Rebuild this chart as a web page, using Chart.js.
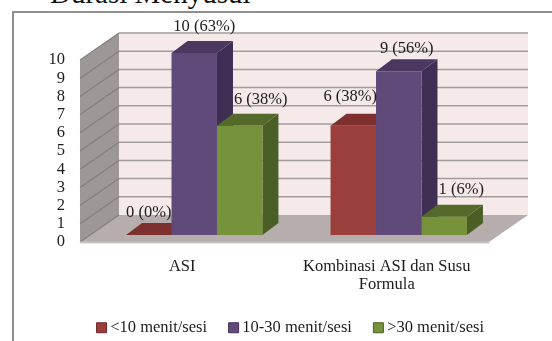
<!DOCTYPE html>
<html>
<head>
<meta charset="utf-8">
<script src="https://cdn.jsdelivr.net/npm/chart.js@4"></script>
<style>
  html, body { margin: 0; padding: 0; width: 552px; height: 341px; overflow: hidden; background: #fff; }
  #frame { position: absolute; left: 12px; top: 11px; width: 800px; height: 600px;
           border-left: 2px solid #8f8f8f; border-top: 2px solid #8f8f8f; }
  #heading { position: absolute; left: 50px; top: -23px; font: 29px "Liberation Serif", serif;
             color: #111; white-space: nowrap; }
  #wrap { position: absolute; left: 0; top: 0; width: 552px; height: 341px; }
</style>
</head>
<body>
<div id="frame"></div>
<div id="heading">Durasi Menyusui</div>
<div id="wrap"><canvas id="chart" width="552" height="341"></canvas></div>
<script>
const categories = ["ASI", ["Kombinasi ASI dan Susu", "Formula"]];
const seriesNames = ["<10 menit/sesi", "10-30 menit/sesi", ">30 menit/sesi"];
const under10 = [0, 6];
const from10to30 = [10, 9];
const over30 = [6, 1];
const under10Pct = [0, 38];
const from10to30Pct = [63, 56];
const over30Pct = [38, 6];
const yTicks = [0, 1, 2, 3, 4, 5, 6, 7, 8, 9, 10];

// Oblique projection of the box: bars sit in a plane between the front and back of the floor.
const FRONT = { dx: -12, dy: 7 };
const BACK = { dx: 27, dy: -20 };
const BAR_DEPTH = { dx: 16, dy: -12 };
const FONT = '"Liberation Serif", serif';
const TEXT_SIZE = 16.5;
const LEGEND_SHIFT = 42;

const palette = [
  { face: "#9b3f3c", top: "#7d302e", side: "#6f2a28" },
  { face: "#5f4a7a", top: "#4a3860", side: "#402f55" },
  { face: "#76923b", top: "#536a2a", side: "#4a5f25" }
];

// Hand placement of each value label relative to its bar top: [dx, dy], per series and category.
const labelNudge = [
  [[0, -22], [-3, -29]],
  [[10, -26], [8, -23]],
  [[21, -26], [17, -27]]
];

function poly(ctx, pts, fill) {
  ctx.beginPath();
  pts.forEach((p, i) => (i ? ctx.lineTo(p[0], p[1]) : ctx.moveTo(p[0], p[1])));
  ctx.closePath();
  ctx.fillStyle = fill;
  ctx.fill();
}

function line(ctx, pts, color, width) {
  ctx.strokeStyle = color;
  ctx.lineWidth = width;
  ctx.beginPath();
  pts.forEach((p, i) => (i ? ctx.lineTo(p[0], p[1]) : ctx.moveTo(p[0], p[1])));
  ctx.stroke();
}

const box3d = {
  id: "box3d",
  // The legend is centred on the whole frame rather than on the plot.
  afterLayout(chart) {
    chart.legend.left += LEGEND_SHIFT;
    chart.legend.right += LEGEND_SHIFT;
  },
  beforeDatasetsDraw(chart) {
    const { ctx, chartArea: a, scales: { y } } = chart;
    const fl = a.left + FRONT.dx, fr = a.right + FRONT.dx;
    const bl = a.left + BACK.dx, br = a.right + BACK.dx;
    const y0 = y.getPixelForValue(0), y10 = y.getPixelForValue(10);
    ctx.save();

    poly(ctx, [[bl, y10 + BACK.dy], [br, y10 + BACK.dy], [br, y0 + BACK.dy], [bl, y0 + BACK.dy]], "#f5e9e9");
    poly(ctx, [[fl, y10 + FRONT.dy], [bl, y10 + BACK.dy], [bl, y0 + BACK.dy], [fl, y0 + FRONT.dy]], "#9d9796");
    poly(ctx, [[fl, y0 + FRONT.dy], [fr, y0 + FRONT.dy], [br, y0 + BACK.dy], [bl, y0 + BACK.dy]], "#b6adad");

    // Gridlines wrap from the side wall on to the back wall.
    yTicks.forEach(v => {
      const py = y.getPixelForValue(v);
      line(ctx, [[fl, py + FRONT.dy], [bl, py + BACK.dy]], "#858080", 1.2);
      if (v > 0) {
        line(ctx, [[bl, py + BACK.dy], [br, py + BACK.dy]], "#a39e9e", 1.5);
      }
    });

    // Floor front lip.
    line(ctx, [[fl, y0 + FRONT.dy + 0.5], [fr, y0 + FRONT.dy + 0.5]], "#c8c3c3", 2);

    // Top and side faces, left to right, so nearer bars overlap correctly.
    const count = chart.data.labels.length;
    for (let c = 0; c < count; c++) {
      chart.data.datasets.forEach((ds, s) => {
        const el = chart.getDatasetMeta(s).data[c];
        const l = el.x - el.width / 2, r = el.x + el.width / 2;
        const t = el.y, b = el.base;
        const d = BAR_DEPTH;
        poly(ctx, [[r, t], [r + d.dx, t + d.dy], [r + d.dx, b + d.dy], [r, b]], palette[s].side);
        poly(ctx, [[l, t], [r, t], [r + d.dx, t + d.dy], [l + d.dx, t + d.dy]], palette[s].top);
      });
    }
    ctx.restore();
  },
  afterDatasetsDraw(chart) {
    const { ctx } = chart;
    const pct = [under10Pct, from10to30Pct, over30Pct];
    ctx.save();
    ctx.font = TEXT_SIZE + "px " + FONT;
    ctx.fillStyle = "#1c1c1c";
    ctx.textAlign = "center";
    ctx.textBaseline = "middle";
    chart.data.datasets.forEach((ds, s) => {
      ds.data.forEach((v, c) => {
        const el = chart.getDatasetMeta(s).data[c];
        const n = labelNudge[s][c];
        ctx.fillText(v + " (" + pct[s][c] + "%)", el.x + n[0], el.y + n[1]);
      });
    });
    ctx.restore();
  }
};

new Chart(document.getElementById("chart"), {
  type: "bar",
  data: {
    labels: categories,
    datasets: [under10, from10to30, over30].map((data, s) => ({
      label: seriesNames[s],
      data,
      backgroundColor: palette[s].face,
      borderWidth: 0,
      categoryPercentage: 0.667,
      barPercentage: 1
    }))
  },
  plugins: [box3d],
  options: {
    responsive: false,
    animation: false,
    events: [],
    layout: { padding: { left: 0, right: 51, top: 53, bottom: -5 } },
    scales: {
      x: {
        grid: { display: false },
        border: { display: false },
        ticks: {
          color: "#1c1c1c",
          font: { family: FONT, size: TEXT_SIZE, lineHeight: "18px" },
          padding: 15,
          labelOffset: -12,
          maxRotation: 0,
          autoSkip: false
        },
        afterFit(scale) { scale.height = 58.5; }
      },
      y: {
        min: 0,
        max: 10,
        grid: { display: false, drawTicks: false },
        border: { display: false },
        ticks: {
          stepSize: 1,
          autoSkip: false,
          color: "#1c1c1c",
          font: { family: FONT, size: TEXT_SIZE },
          padding: 27,
          labelOffset: 7
        },
        afterFit(scale) { scale.width = 92; }
      }
    },
    plugins: {
      title: { display: false },
      tooltip: { enabled: false },
      legend: {
        position: "bottom",
        labels: {
          color: "#1c1c1c",
          font: { family: FONT, size: TEXT_SIZE },
          usePointStyle: true,
          pointStyle: "rect",
          boxWidth: 1,
          boxHeight: 10,
          padding: 26,
          generateLabels(chart) {
            return Chart.defaults.plugins.legend.labels.generateLabels(chart).map((item, i) => {
              item.strokeStyle = palette[i].side;
              item.lineWidth = 1;
              item.pointStyle = "rect";
              return item;
            });
          }
        }
      }
    }
  }
});
</script>
</body>
</html>
